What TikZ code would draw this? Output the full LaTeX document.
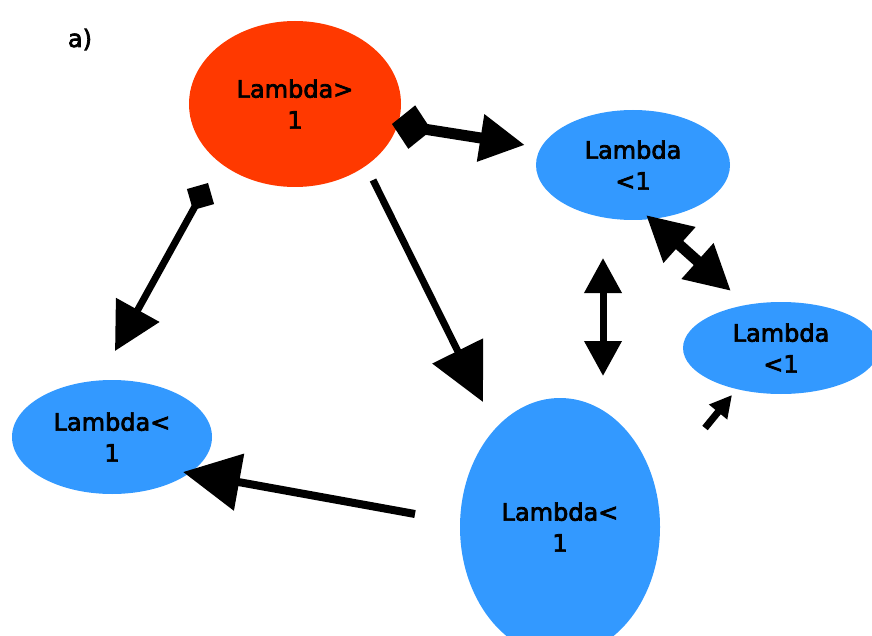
\documentclass[tikz,border=0pt]{standalone}
\usepackage{fontspec}
\setmainfont{DejaVu Sans}
\newfontfamily\lamfont{DejaVu Sans}[FakeBold=3]
\usetikzlibrary{arrows.meta,shapes.geometric}
\definecolor{redfill}{RGB}{255,57,0}
\definecolor{bluefill}{RGB}{51,153,255}
\begin{document}
\begin{tikzpicture}[x=1pt,y=-1pt,
  lam/.style={ellipse, inner sep=0pt, align=center, font=\lamfont\fontsize{24}{31}\selectfont, text=black},
  conn/.style={line width=7pt, draw=black, line cap=butt},
  thick conn/.style={conn, line width=11pt},
]
\clip (0,0) rectangle (872,636);
% nodes
\node[lam, fill=redfill, minimum width=212pt, minimum height=166pt] (red) at (295,104) {Lambda>\\1};
\node[lam, fill=bluefill, minimum width=194pt, minimum height=110pt] (tr) at (633,165) {Lambda\\<1};
\node[lam, fill=bluefill, minimum width=196pt, minimum height=92pt] (rt) at (781,348) {Lambda\\<1};
\node[lam, fill=bluefill, minimum width=200pt, minimum height=114pt] (lf) at (112,437) {Lambda<\\1};
\node[lam, fill=bluefill, minimum width=200pt, minimum height=258pt] (bt) at (560,527) {Lambda<\\1};
\node[font=\lamfont\fontsize{24}{28}\selectfont, anchor=base] (lab) at (80,47) {a)};
% free connector ends
\coordinate (a1s) at (208,183); \coordinate (a1e) at (115,351);
\coordinate (a2s) at (373,180); \coordinate (a2e) at (483,402);
\coordinate (a3s) at (392,124); \coordinate (a3e) at (525,145);
\coordinate (a4s) at (603,258); \coordinate (a4e) at (603,376);
\coordinate (a5s) at (646,215); \coordinate (a5e) at (731,291);
\coordinate (a6s) at (705,428); \coordinate (a6e) at (732,395);
\coordinate (a7s) at (415,514); \coordinate (a7e) at (183,472);
% connectors
\draw[conn, {Diamond[length=31pt,width=31pt]}-{Triangle[length=47pt,width=48pt]}] (a1s) -- (a1e);
\draw[conn, -{Triangle[length=57pt,width=55pt]}] (a2s) -- (a2e);
\draw[thick conn, {Diamond[length=40pt,width=44pt]}-{Triangle[length=45pt,width=45pt]}] (a3s) -- (a3e);
\draw[conn, {Triangle[length=35pt,width=36pt]}-{Triangle[length=35pt,width=36pt]}] (a4s) -- (a4e);
\draw[thick conn, {Triangle[length=45pt,width=45pt]}-{Triangle[length=45pt,width=45pt]}] (a5s) -- (a5e);
\draw[conn, -{Triangle[length=22pt,width=22pt]}] (a6s) -- (a6e);
\draw[conn, line width=8pt, -{Triangle[length=57pt,width=56pt]}] (a7s) -- (a7e);
\end{tikzpicture}
\end{document}
